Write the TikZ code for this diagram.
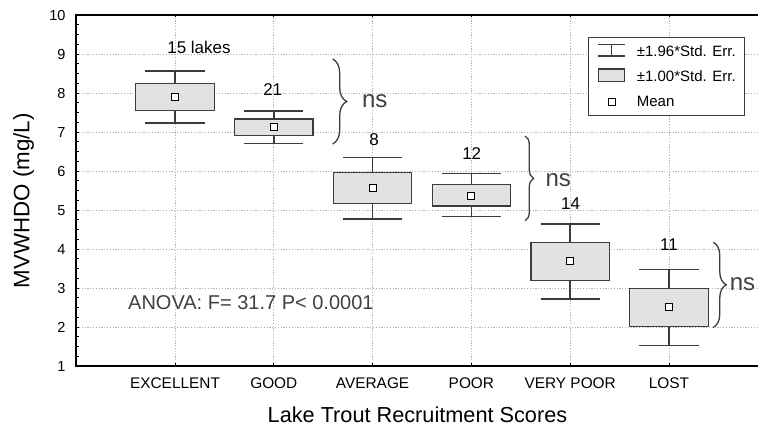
\documentclass[tikz,border=0pt]{standalone}
\usepackage{fontspec}
\setmainfont{Liberation Sans}
\usetikzlibrary{decorations.pathreplacing}

\definecolor{gridgray}{HTML}{B4B4B4}
\definecolor{boxfill}{HTML}{E2E2E2}
\definecolor{inkgray}{HTML}{3C3C3C}
\definecolor{notegray}{HTML}{404040}

\newcommand{\fs}[1]{\fontsize{#1}{#1}\selectfont}

\tikzset{
  gridline/.style={gridgray, line width=0.8pt, dash pattern=on 1.2pt off 1.6pt},
  axisline/.style={black, line width=1.5pt},
  tickline/.style={black, line width=0.9pt},
  whisk/.style={inkgray, line width=1.5pt},
  sebox/.style={inkgray, line width=1.3pt, fill=boxfill},
  meanmark/.style={draw=black, fill=white, line width=1pt, minimum size=7pt,
    inner sep=0pt, rectangle},
  ticklab/.style={anchor=base east, inner sep=0pt, font=\fs{14.5}},
  catlab/.style={anchor=base, inner sep=0pt, font=\fs{15.4}},
  countlab/.style={anchor=base, inner sep=0pt, font=\fs{17}},
  nslab/.style={anchor=base, inner sep=0pt, text=notegray, font=\fs{24}},
  groupbrace/.style={inkgray, line width=1.3pt, decorate},
  legendtext/.style={anchor=base west, inner sep=0pt, font=\fs{15}},
}

\begin{document}
\begin{tikzpicture}[x=98.8pt, y=39pt]
\useasboundingbox (-0.7713,-0.5385) rectangle (6.9008,10.3846);

% grid
\foreach \v in {2,...,9}
  \draw[gridline] (0,\v) -- (6.9,\v);
\foreach \k in {1,...,6}
  \draw[gridline] (\k,1) -- (\k,10);

% axes and ticks
\draw[axisline] (6.9,10) -- (0,10) -- (0,1) -- (6.9,1);
\foreach \i in {0,...,36}
  \draw[tickline] (0,{1+\i/4}) -- ++(0.03,0);
\foreach \k in {1,...,6} {
  \draw[tickline] (\k,1) -- ++(0,0.08);
  \draw[tickline] (\k,10) -- ++(0,-0.06);
}

% y tick labels
\foreach \v in {1,...,10}
  \node[ticklab] (ytick\v) at (-0.106,{\v-0.146}) {\v};

% category labels
\foreach \k/\t in {1/EXCELLENT,2/GOOD,3/AVERAGE,4/POOR,5/VERY POOR,6/LOST}
  \node[catlab] (cat\k) at (\k,0.428) {\t};

% axis titles
\node[anchor=base, inner sep=0pt, font=\fs{21.7}] (xtitle) at (3.454,-0.454)
  {Lake Trout Recruitment Scores};
\node[anchor=base, rotate=90, inner sep=0pt, font=\fs{22.3}] (ytitle) at (-0.475,5.238)
  {MVWHDO (mg/L)};

% box-whisker plots: k / whisker low / box low / mean / box high / whisker high
\foreach \k/\wl/\bl/\m/\bh/\wh in {
    1/7.23/7.56/7.90/8.25/8.56,
    2/6.71/6.91/7.14/7.33/7.54,
    3/4.77/5.17/5.56/5.96/6.34,
    4/4.83/5.10/5.36/5.66/5.93,
    5/2.72/3.19/3.69/4.17/4.64,
    6/1.53/2.01/2.50/2.98/3.48} {
  \draw[whisk] (\k-0.30,\wh) -- (\k+0.30,\wh) (\k,\wh) -- (\k,\bh)
               (\k,\bl) -- (\k,\wl) (\k-0.30,\wl) -- (\k+0.30,\wl);
  \draw[sebox] (\k-0.397,\bl) rectangle (\k+0.397,\bh);
  \node[meanmark] (mean\k) at (\k,\m) {};
}

% sample sizes
\node[countlab] (n1) at (1.243,9.0) {15 lakes};
\node[countlab] (n2) at (1.989,7.923) {21};
\node[countlab] (n3) at (3.014,6.657) {8};
\node[countlab] (n4) at (4.003,6.30) {12};
\node[countlab] (n5) at (5.003,5.018) {14};
\node[countlab] (n6) at (6.0,3.956) {11};

% non-significant groupings
\draw[groupbrace, decoration={brace, amplitude=14pt}] (2.596,8.872) -- (2.596,6.692);
\node[nslab] (ns1) at (3.021,7.623) {ns};
\draw[groupbrace, decoration={brace, amplitude=8.5pt}] (4.543,6.897) -- (4.543,4.726);
\node[nslab] (ns2) at (4.879,5.615) {ns};
\draw[groupbrace, decoration={brace, amplitude=13pt}] (6.448,4.172) -- (6.448,1.992);
\node[nslab] (ns3) at (6.744,2.931) {ns};

% ANOVA result
\node[anchor=base west, inner sep=0pt, text=notegray, font=\fs{20}] (anova) at (0.524,2.436)
  {ANOVA: F= 31.7 P< 0.0001};

% legend
\draw[inkgray, line width=1pt, fill=white] (5.183,9.428) rectangle (6.769,7.428);
\draw[whisk, line width=1.2pt] (5.286,9.249) -- (5.554,9.249) (5.420,9.249) -- (5.420,8.949)
  (5.286,8.949) -- (5.554,8.949);
\draw[sebox, line width=1.1pt] (5.286,8.615) rectangle (5.554,8.290);
\node[meanmark] (legmean) at (5.420,7.777) {};
\node[legendtext] (leg1) at (5.673,8.931) {±1.96*Std. Err.};
\node[legendtext] (leg2) at (5.673,8.290) {±1.00*Std. Err.};
\node[legendtext] (leg3) at (5.673,7.649) {Mean};
\end{tikzpicture}
\end{document}
